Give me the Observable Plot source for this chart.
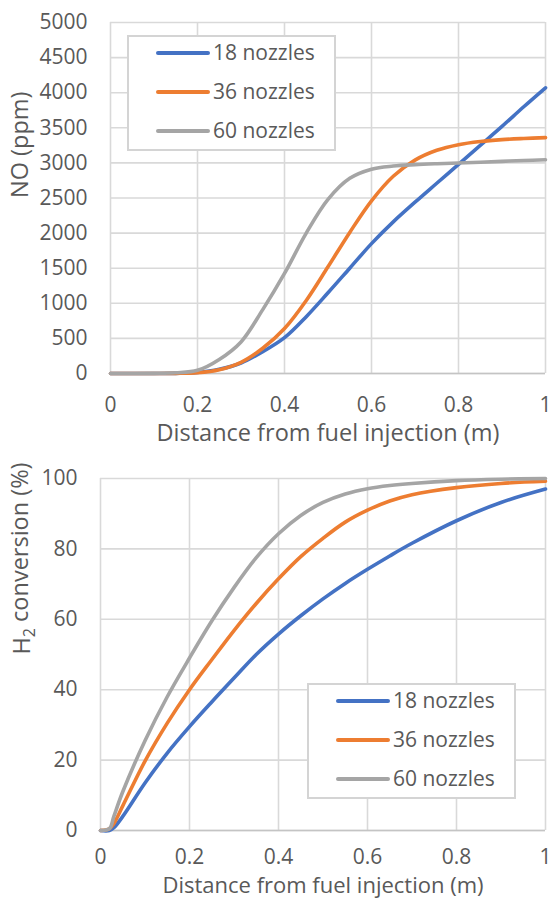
<!DOCTYPE html>
<html><head><meta charset="utf-8">
<script src="https://cdn.jsdelivr.net/npm/d3@7"></script>
<script src="https://cdn.jsdelivr.net/npm/@observablehq/plot@0.6"></script>
<style>
body{margin:0;background:#fff;}
#wrap{position:relative;width:552px;font-family:"Open Sans",sans-serif;color:#595959;}
#wrap svg{display:block;}
.legend{position:absolute;box-sizing:border-box;border:2px solid #d4d4d4;background:#fff;width:209px;height:116px;}
.legend .sw{position:absolute;left:27px;width:54px;height:4px;border-radius:2px;}
.legend .lab{position:absolute;left:84px;font-size:21px;line-height:24px;white-space:nowrap;}
</style></head>
<body><div id="wrap"></div>
<script>
const seriesNames = ["18 nozzles", "36 nozzles", "60 nozzles"];
const seriesColors = ["#4472C4", "#ED7D31", "#A5A5A5"];

// Chart 1: NO (ppm)
const distNO = [0,0.1,0.15,0.2,0.25,0.3,0.35,0.4,0.45,0.5,0.55,0.6,0.65,0.7,0.75,0.8,0.85,0.9,0.95,1];
const no18 = [0,0,2,15,60,150,310,510,810,1150,1500,1850,2160,2440,2710,2980,3250,3520,3800,4070];
const no36 = [0,0,2,12,55,160,360,640,1040,1520,2010,2460,2810,3040,3180,3260,3305,3332,3348,3360];
const no60 = [0,2,10,45,200,450,910,1425,2000,2480,2780,2910,2955,2975,2988,2998,3010,3022,3034,3045];
const yTicksNO = [0,500,1000,1500,2000,2500,3000,3500,4000,4500,5000];

// Chart 2: H2 conversion (%)
const distH2 = [0,0.02,0.03,0.05,0.1,0.15,0.2,0.25,0.3,0.35,0.4,0.45,0.5,0.55,0.6,0.65,0.7,0.8,0.9,1];
const h18 = [0,0,0.8,4,13.5,22,29.5,36.5,43.3,50,55.8,61,65.8,70.2,74.2,78,81.6,88,93.2,97];
const h36 = [0,0.5,2,7,19.7,30.5,40,48.5,56.8,64.5,71.5,77.8,83,87.6,91,93.6,95.4,97.4,98.6,99.2];
const h60 = [0,0.5,4,11,25.5,38,49,59.5,69,77.5,84.3,89.5,93.2,95.6,97.1,98,98.6,99.4,99.8,100];
const yTicksH2 = [0,20,40,60,80,100];

const xTicks = [0,0.2,0.4,0.6,0.8,1];
const xTickLabels = ["0","0.2","0.4","0.6","0.8","1"];
const xTitle = "Distance from fuel injection (m)";
const yTitleNO = "NO (ppm)";
const yTitleH2 = "H2 conversion (%)";

function toRows(dist, arrays) {
  const rows = [];
  arrays.forEach((arr, i) => arr.forEach((v, j) => rows.push({d: dist[j], v, s: seriesNames[i]})));
  return rows;
}

function makeChart({rows, yTicks, yMax, yTitle, height, mt, mb, ml, mr, yTitleX, xTitleDy, xPad, titleSize}) {
  return Plot.plot({
    width: 552, height,
    marginTop: mt, marginBottom: mb, marginLeft: ml, marginRight: mr,
    style: {fontFamily: '"Open Sans", sans-serif', fontSize: "21px", color: "#595959", background: "#fff"},
    x: {domain: [0, 1]},
    y: {domain: [0, yMax]},
    color: {domain: seriesNames, range: seriesColors},
    marks: [
      Plot.gridY(yTicks, {stroke: "#d9d9d9", strokeOpacity: 1, strokeWidth: 1.6}),
      Plot.gridX(xTicks, {stroke: "#d9d9d9", strokeOpacity: 1, strokeWidth: 1.6}),
      Plot.ruleY([0], {stroke: "#c4c4c4", strokeWidth: 1.6}),
      Plot.axisY(yTicks, {tickSize: 0, tickPadding: 23, label: null, tickFormat: d => String(d)}),
      Plot.axisX(xTicks, {tickSize: 0, tickPadding: xPad, label: null, tickFormat: (d, i) => xTickLabels[i]}),
      Plot.line(rows, {x: "d", y: "v", z: "s", stroke: "s", strokeWidth: 3.6, curve: "catmull-rom", strokeLinecap: "round"}),
      Plot.text([xTitle], {frameAnchor: "bottom", dy: xTitleDy, lineAnchor: "middle", fontSize: titleSize, fill: "currentColor"}),
      Plot.text([yTitle], {frameAnchor: "left", rotate: -90, dx: yTitleX, lineAnchor: "middle", fontSize: 23.5, fill: "currentColor"})
    ]
  });
}

function makeLegend(left, top) {
  const div = document.createElement("div");
  div.className = "legend";
  div.style.left = left + "px";
  div.style.top = top + "px";
  seriesNames.forEach((n, i) => {
    const c = 16 + i * 39;
    const sw = document.createElement("div");
    sw.className = "sw";
    sw.style.top = (c - 2) + "px";
    sw.style.background = seriesColors[i];
    const lab = document.createElement("div");
    lab.className = "lab";
    lab.style.top = (c - 13) + "px";
    lab.textContent = n;
    div.appendChild(sw);
    div.appendChild(lab);
  });
  return div;
}

const wrap = document.getElementById("wrap");
const c1 = makeChart({rows: toRows(distNO, [no18, no36, no60]), yTicks: yTicksNO, yMax: 5000, yTitle: yTitleNO,
  height: 450, mt: 22, mb: 77, ml: 110, mr: 7, yTitleX: -90, xTitleDy: 60, xPad: 24, titleSize: 23.5});
const c2 = makeChart({rows: toRows(distH2, [h18, h36, h60]), yTicks: yTicksH2, yMax: 100, yTitle: yTitleH2,
  height: 450, mt: 28, mb: 70, ml: 100, mr: 7, yTitleX: -78, xTitleDy: 55, xPad: 19, titleSize: 22});
wrap.appendChild(c1);
wrap.appendChild(c2);

// subscript for H2
d3.select(c2).selectAll("text").filter(function(){ return this.textContent === yTitleH2; }).each(function(){
  const t = d3.select(this);
  t.text(null);
  t.append("tspan").text("H");
  t.append("tspan").attr("font-size", 16).attr("dy", "0.3em").text("2");
  t.append("tspan").attr("dy", "-0.3em").text(" conversion (%)");
});

wrap.appendChild(makeLegend(127, 35));
wrap.appendChild(makeLegend(307, 683));
</script></body></html>
